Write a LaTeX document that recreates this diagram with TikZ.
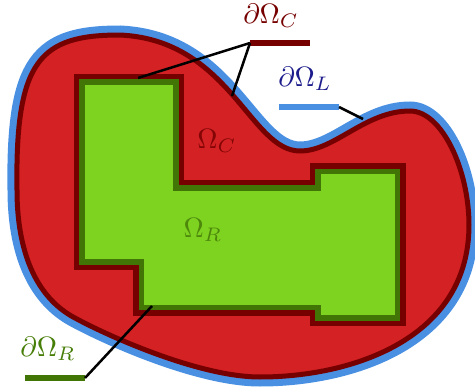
\documentclass[tikz,border=0pt]{standalone}
\usetikzlibrary{positioning}
\definecolor{regionred}{RGB}{211,33,36}
\definecolor{rimred}{RGB}{118,0,0}
\definecolor{skyblue}{RGB}{74,144,226}
\definecolor{limegreen}{RGB}{126,211,33}
\definecolor{mossgreen}{RGB}{65,117,5}
\definecolor{navyblue}{RGB}{28,28,140}

\begin{document}
\begin{tikzpicture}[x=1pt, y=-1pt,
  bar/.style={line width=5.5pt},
  leader/.style={line width=2.5pt, black},
  mathlabel/.style={scale=2.8, inner sep=0pt}
]
\useasboundingbox (0,0) rectangle (475,391);

% Outer domain with its boundary
\draw[fill=regionred, draw=rimred, line width=5pt,
  preaction={draw=skyblue, line width=19pt}]
  (120,35) .. controls (230,40) and (250,151) .. (300,151)
  .. controls (335,151) and (365,111) .. (410,111)
  .. controls (442,111) and (469,170) .. (469,225)
  .. controls (469,340) and (350,377) .. (260,377)
  .. controls (200,377) and (110,337) .. (75,318)
  .. controls (35,297) and (17,250) .. (17,190)
  .. controls (15,60) and (40,35) .. (120,35) -- cycle;

% Inner region
\draw[fill=limegreen, draw=mossgreen, line width=5.5pt,
  preaction={draw=rimred, line width=16.5pt}]
  (82,82) -- (176,82) -- (176,188) -- (318,188) -- (318,171.5)
  -- (397.5,171.5) -- (397.5,318) -- (318,318) -- (318,307.5)
  -- (141.5,307.5) -- (141.5,262) -- (82,262) -- cycle;

% Region names
\node[mathlabel, text=rimred!85!regionred] (OmC) at (217,141) {$\Omega_C$};
\node[mathlabel, text=mossgreen!80!limegreen] (OmR) at (203,230) {$\Omega_R$};

% Boundary keys
\coordinate (barC-w) at (250,43);
\coordinate (barC-e) at (310,43);
\coordinate (barL-w) at (279,107);
\coordinate (barL-e) at (339,107);
\coordinate (barR-w) at (25,378);
\coordinate (barR-e) at (85,378);
\draw[bar, rimred] (barC-w) -- (barC-e);
\draw[bar, skyblue] (barL-w) -- (barL-e);
\draw[bar, mossgreen] (barR-w) -- (barR-e);

\node[mathlabel, text=rimred] (dOmC) at (271,16) {$\partial\Omega_C$};
\node[mathlabel, text=navyblue] (dOmL) at (305,79) {$\partial\Omega_L$};
\node[mathlabel, text=mossgreen!90!limegreen] (dOmR) at (48,349) {$\partial\Omega_R$};

% Leaders
\coordinate (tipC-a) at (138,78);
\coordinate (tipC-b) at (232,96);
\coordinate (tipL) at (363,119);
\coordinate (tipR) at (152,306);
\draw[leader] (barC-w) -- (tipC-a);
\draw[leader] (barC-w) -- (tipC-b);
\draw[leader] (barL-e) -- (tipL);
\draw[leader] (barR-e) -- (tipR);
\end{tikzpicture}
\end{document}
